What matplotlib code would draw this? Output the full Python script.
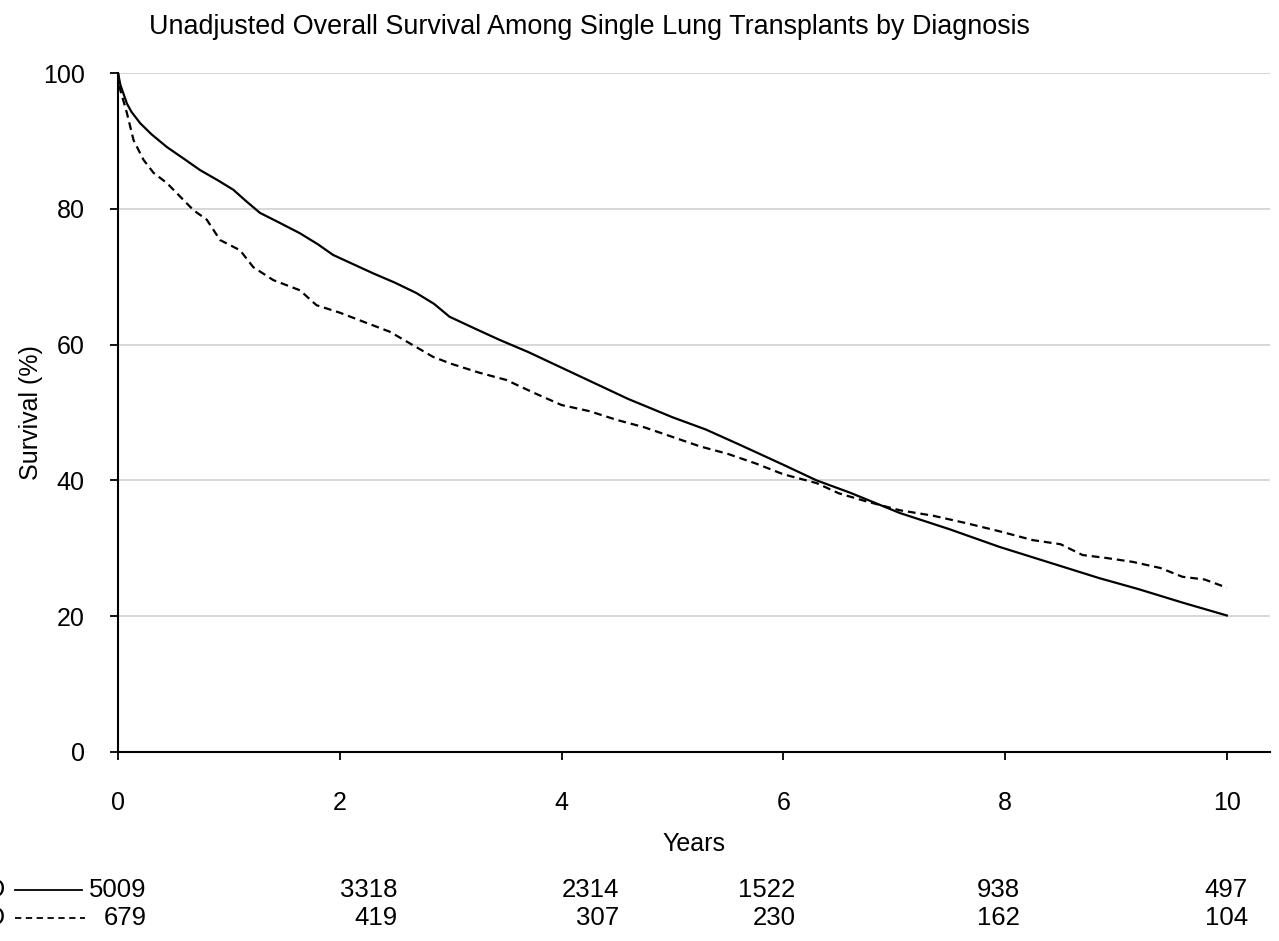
import numpy as np
import matplotlib.pyplot as plt
import matplotlib.transforms as mtransforms

plt.rcParams['font.family'] = ['Liberation Sans', 'DejaVu Sans']

# curvas (años, supervivencia %)
t_copd = [0, 0.02, 0.05, 0.08, 0.12, 0.2, 0.3, 0.44, 0.6, 0.74, 0.9, 1.04, 1.15, 1.28, 1.45,
          1.64, 1.8, 1.94, 2.1, 2.3, 2.5, 2.69, 2.85, 2.99, 3.2, 3.44, 3.7, 4.0, 4.3, 4.6,
          5.0, 5.3, 5.6, 6.0, 6.3, 6.6, 7.05, 7.5, 7.95, 8.4, 8.85, 9.2, 9.6, 10.0]
s_copd = [100, 98.3, 96.9, 95.5, 94.3, 92.6, 91.0, 89.1, 87.3, 85.7, 84.2, 82.8, 81.2, 79.4, 78.0,
          76.4, 74.8, 73.2, 72.0, 70.5, 69.1, 67.6, 66.0, 64.1, 62.5, 60.7, 58.9, 56.6, 54.3, 52.0,
          49.3, 47.5, 45.3, 42.3, 40.0, 38.2, 35.2, 32.8, 30.2, 27.9, 25.6, 24.0, 22.0, 20.1]

t_a1at = [0, 0.02, 0.05, 0.08, 0.14, 0.23, 0.32, 0.44, 0.56, 0.68, 0.8, 0.92, 1.1, 1.22, 1.4,
          1.64, 1.79, 2.0, 2.24, 2.45, 2.63, 2.84, 3.0, 3.25, 3.5, 3.75, 4.0, 4.25, 4.5, 4.75,
          5.0, 5.25, 5.5, 5.75, 6.0, 6.3, 6.5, 6.75, 7.05, 7.35, 7.65, 7.95, 8.25, 8.5, 8.7,
          8.9, 9.15, 9.4, 9.6, 9.8, 10.0]
s_a1at = [100, 97.5, 95.8, 94.1, 90.1, 87.2, 85.3, 83.8, 81.8, 79.8, 78.4, 75.4, 73.9, 71.4, 69.5,
          68.0, 65.8, 64.7, 63.2, 61.9, 60.2, 58.2, 57.2, 55.9, 54.8, 52.9, 51.1, 50.2, 48.9, 47.8,
          46.4, 45.0, 43.9, 42.5, 40.9, 39.6, 38.1, 36.9, 35.6, 34.8, 33.7, 32.5, 31.2, 30.6, 29.0,
          28.6, 28.0, 27.1, 25.8, 25.4, 24.2]

grupos = ['COPD', 'A1ATD']
en_riesgo_copd = [5009, 3318, 2314, 1522, 938, 497]
en_riesgo_a1at = [679, 419, 307, 230, 162, 104]
pos_conteo = [0.26, 2.52, 4.52, 6.11, 8.13, 10.19]

fig = plt.figure(figsize=(12.79, 9.41), dpi=100)
ax = fig.add_axes([0.0923, 0.2009, 0.9007, 0.7215])

ax.plot(t_copd, s_copd, color='black', lw=1.6, ls='-')
ax.plot(t_a1at, s_a1at, color='black', lw=1.6, ls=(0, (3.5, 2.2)))

ax.set_xlim(0, 10.39)
ax.set_ylim(0, 100)
ax.set_xticks(range(0, 11, 2))
ax.set_yticks(range(0, 101, 20))
ax.grid(axis='y', color='#d4d4d4', lw=1.3)
ax.set_axisbelow(True)
for s in ['top', 'right']:
    ax.spines[s].set_visible(False)
for s in ['left', 'bottom']:
    ax.spines[s].set_linewidth(1.5)
ax.tick_params(axis='both', labelsize=18, length=6, width=1.3, direction='out')
ax.tick_params(axis='x', pad=22)
ax.tick_params(axis='y', pad=18)

ax.set_xlabel('Years', fontsize=18, labelpad=12)
ax.set_ylabel('Survival (%)', fontsize=18, labelpad=0)
fig.text(0.461, 0.971, 'Unadjusted Overall Survival Among Single Lung Transplants by Diagnosis',
         ha='center', va='center', fontsize=19.4)

# tabla de pacientes en riesgo
trans = mtransforms.blended_transform_factory(ax.transData, fig.transFigure)
fila_y = [1 - 890 / 941, 1 - 918 / 941]
for fy, cuentas in zip(fila_y, [en_riesgo_copd, en_riesgo_a1at]):
    for xp, c in zip(pos_conteo, cuentas):
        ax.text(xp, fy, str(c), transform=trans, ha='right', va='center',
                fontsize=18.5, clip_on=False)
for fy, g in zip(fila_y, grupos):
    fig.text(6 / 1279, fy, g, ha='right', va='center', fontsize=18.5)

fig.add_artist(plt.Line2D([15 / 1279, 82 / 1279], [fila_y[0], fila_y[0]],
                          color='black', lw=1.3, transform=fig.transFigure))
fig.add_artist(plt.Line2D([15 / 1279, 85 / 1279], [fila_y[1], fila_y[1]],
                          color='black', lw=1.3, ls=(0, (3.5, 2.5)), transform=fig.transFigure))

fig.savefig('out.png', dpi=100)
